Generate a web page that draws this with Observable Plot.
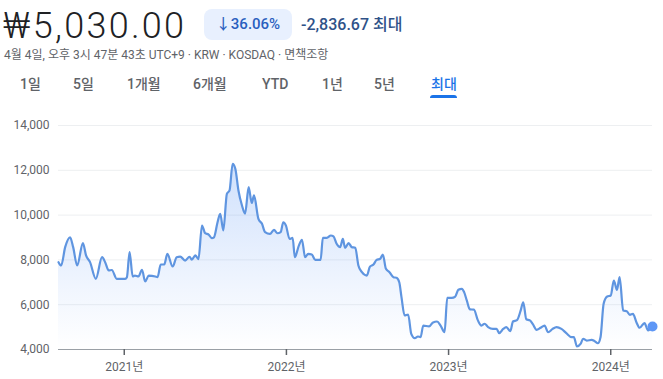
<!DOCTYPE html>
<html>
<head>
<meta charset="utf-8">
<script src="https://cdn.jsdelivr.net/npm/d3@7"></script>
<script src="https://cdn.jsdelivr.net/npm/@observablehq/plot@0.6"></script>
<style>
  html, body { margin: 0; padding: 0; background: #fff; }
  #root { position: relative; width: 663px; height: 379px; overflow: hidden;
          font-family: Roboto, "Noto Sans CJK KR", sans-serif; }
  .abs { position: absolute; white-space: nowrap; line-height: 1; }
  #price { left: 3px; top: 8px; font-size: 36px; color: #202124; font-weight: 300; letter-spacing: 2.3px; }
  #badge { left: 204px; top: 9px; width: 88px; height: 31px; border-radius: 8px;
           background: #e8f0fe; color: #2a5fbf; font-size: 15px; font-weight: 500;
           display: flex; align-items: center; justify-content: center; line-height: 1; }
  #change { left: 301px; top: 17px; font-size: 16px; color: #2f5288; font-weight: 500; }
  #sub { left: 4px; top: 49px; font-size: 12px; color: #5f6368; }
  .tab { top: 77px; font-size: 14px; color: #5f6368; font-weight: 500; }
  .tab.on { color: #1a73e8; }
  #uline { position: absolute; left: 430px; top: 95px; width: 27px; height: 3px;
           background: #1a73e8; border-radius: 3px 3px 0 0; }
  #chart { position: absolute; left: 0; top: 100px; }
</style>
</head>
<body>
<div id="root">
  <div class="abs" id="price">₩5,030.00</div>
  <div class="abs" id="badge">↓36.06%</div>
  <div class="abs" id="change">-2,836.67 최대</div>
  <div class="abs" id="sub">4월 4일, 오후 3시 47분 43초 UTC+9 · KRW · KOSDAQ · 면책조항</div>
  <div id="tabs"></div>
  <div id="uline"></div>
  <div id="chart"></div>
</div>
<script>
const tabLabels = ["1일", "5일", "1개월", "6개월", "YTD", "1년", "5년", "최대"];
const tabLefts = [20, 73, 127, 193, 262, 322, 374, 431];

const dates = [
  "2020-08-06","2020-08-12","2020-08-21","2020-09-01","2020-09-08","2020-09-17","2020-09-30","2020-10-07",
  "2020-10-16","2020-10-29","2020-11-12","2020-11-19","2020-11-27","2020-12-04","2020-12-15","2021-01-03",
  "2021-01-07","2021-01-13","2021-01-20","2021-01-25","2021-02-02","2021-02-10","2021-02-17","2021-02-25",
  "2021-03-12","2021-03-17","2021-03-24","2021-04-01","2021-04-08","2021-04-20","2021-04-29","2021-05-07",
  "2021-05-18","2021-05-28","2021-06-02","2021-06-10","2021-06-17","2021-06-25","2021-07-02","2021-07-10",
  "2021-07-17","2021-07-22","2021-07-30","2021-08-05","2021-08-12","2021-08-20","2021-08-26","2021-09-02",
  "2021-09-08","2021-09-15","2021-09-23","2021-09-30","2021-10-08","2021-10-15","2021-10-20","2021-10-30",
  "2021-11-07","2021-11-14","2021-11-25","2021-12-04","2021-12-12","2021-12-19","2021-12-25","2021-12-31",
  "2022-01-08","2022-01-15","2022-01-20","2022-01-29","2022-02-05","2022-02-12","2022-02-19","2022-02-27",
  "2022-03-07","2022-03-19","2022-03-24","2022-04-02","2022-04-11","2022-04-17","2022-04-24","2022-05-02",
  "2022-05-08","2022-05-13","2022-05-21","2022-05-28","2022-06-05","2022-06-12","2022-06-20","2022-07-01",
  "2022-07-08","2022-07-16","2022-07-23","2022-07-31","2022-08-06","2022-08-13","2022-08-21","2022-08-30",
  "2022-09-06","2022-09-12","2022-09-17","2022-09-24","2022-10-02","2022-10-09","2022-10-17","2022-10-24",
  "2022-10-30","2022-11-05","2022-11-18","2022-11-27","2022-12-06","2022-12-14","2022-12-23","2022-12-29",
  "2023-01-08","2023-01-16","2023-01-23","2023-01-31","2023-02-05","2023-02-11","2023-02-18","2023-02-27",
  "2023-03-08","2023-03-16","2023-03-23","2023-03-31","2023-04-11","2023-04-19","2023-04-25","2023-05-04",
  "2023-05-11","2023-05-20","2023-05-26","2023-06-04","2023-06-12","2023-06-18","2023-06-25","2023-07-03",
  "2023-07-10","2023-07-18","2023-07-27","2023-08-05","2023-08-13","2023-08-23","2023-09-01","2023-09-12",
  "2023-09-23","2023-10-05","2023-10-10","2023-10-17","2023-10-25","2023-10-31","2023-11-08","2023-11-19",
  "2023-11-26","2023-12-03","2023-12-09","2023-12-16","2023-12-24","2024-01-01","2024-01-08","2024-01-15",
  "2024-01-21","2024-01-29","2024-02-06","2024-02-13","2024-02-20","2024-02-28","2024-03-06","2024-03-17",
  "2024-03-25","2024-04-04"
];
const prices = [
  7900,7750,8570,9010,8570,7750,8750,8200,
  7900,7155,8120,7900,7530,7550,7155,7155,
  7230,8345,7260,7300,7260,7560,7036,7300,
  7260,7230,7795,7795,8270,7705,8120,8150,
  7970,8140,8010,8200,8030,9536,9190,9130,
  8970,9010,9680,10057,9313,10950,11100,12290,
  12070,11100,10430,10060,11250,10540,10880,9830,
  9610,9240,9160,9340,9190,9240,9680,9530,
  8940,8980,8120,8640,8900,8120,8270,8240,
  8000,8000,8985,8985,9090,9050,8720,8570,
  8940,8540,8750,8570,8540,7750,7450,7300,
  7700,7795,8000,8050,8240,7600,7450,7230,
  7200,7000,6335,5518,5560,4700,4505,4580,
  4550,5070,5030,5210,5250,5070,4770,6306,
  6306,6365,6665,6710,6560,6190,5790,5780,
  5300,5070,5150,5000,4920,4920,4730,4920,
  5000,4820,5250,5310,5720,6110,5350,5300,
  5120,4880,4970,5070,4770,4920,5000,4920,
  4730,4550,4550,4134,4250,4480,4400,4430,
  4370,4280,4550,6040,6365,6410,7080,6665,
  7230,5740,5710,5550,5590,5210,4970,5180,
  4850,5030
];
const yTicks = [4000, 6000, 8000, 10000, 12000, 14000];
const yearTicks = ["2021-01-01", "2022-01-01", "2023-01-01", "2024-01-01"];
const yearLabels = ["2021년", "2022년", "2023년", "2024년"];

// tabs
const tabs = document.getElementById("tabs");
tabLabels.forEach((t, i) => {
  const d = document.createElement("div");
  d.className = "abs tab" + (t === "최대" ? " on" : "");
  d.style.left = tabLefts[i] + "px";
  d.textContent = t;
  tabs.appendChild(d);
});

const data = dates.map((d, i) => ({date: new Date(d), price: prices[i]}));
const last = [data[data.length - 1]];
const yearDates = yearTicks.map(d => new Date(d));

const chart = Plot.plot({
  width: 663,
  height: 279,
  marginTop: 25,
  marginBottom: 30,
  marginLeft: 58,
  marginRight: 11,
  style: {fontFamily: "Roboto, 'Noto Sans CJK KR', sans-serif", fontSize: "12px", color: "#5f6368", background: "transparent", overflow: "visible"},
  x: {type: "utc", domain: [new Date("2020-08-06"), new Date("2024-04-04")]},
  y: {domain: [4000, 14000]},
  marks: [
    Plot.ruleY(yTicks.slice(1), {stroke: "#edeff1", strokeWidth: 1}),
    Plot.areaY(data, {x: "date", y1: 4000, y2: "price", fill: "url(#fadeGrad)", curve: "monotone-x"}),
    Plot.lineY(data, {x: "date", y: "price", stroke: "#5f95e0", strokeWidth: 2.2, curve: "monotone-x"}),
    Plot.ruleY([4000], {stroke: "#9aa0a6", strokeWidth: 1}),
    Plot.axisY(yTicks, {tickSize: 0, tickPadding: 9, tickFormat: d3.format(","), label: null, fill: "#5f6368"}),
    Plot.axisX(yearDates, {tickSize: 6, tickPadding: 7, stroke: "#5f6368", strokeWidth: 1.5,
      tickFormat: (d, i) => yearLabels[i], label: null, fill: "#5f6368"}),
    Plot.dot(last, {x: "date", y: "price", r: 5, fill: "#5e97f6", stroke: "none"})
  ]
});

const svg = d3.select(chart);
const defs = svg.insert("defs", ":first-child");
const g = defs.append("linearGradient").attr("id", "fadeGrad")
  .attr("x1", 0).attr("y1", 0).attr("x2", 0).attr("y2", 1);
g.append("stop").attr("offset", "0%").attr("stop-color", "#4285f4").attr("stop-opacity", 0.25);
g.append("stop").attr("offset", "70%").attr("stop-color", "#4285f4").attr("stop-opacity", 0.07);
g.append("stop").attr("offset", "100%").attr("stop-color", "#4285f4").attr("stop-opacity", 0.0);

document.getElementById("chart").appendChild(chart);
</script>
</body>
</html>
